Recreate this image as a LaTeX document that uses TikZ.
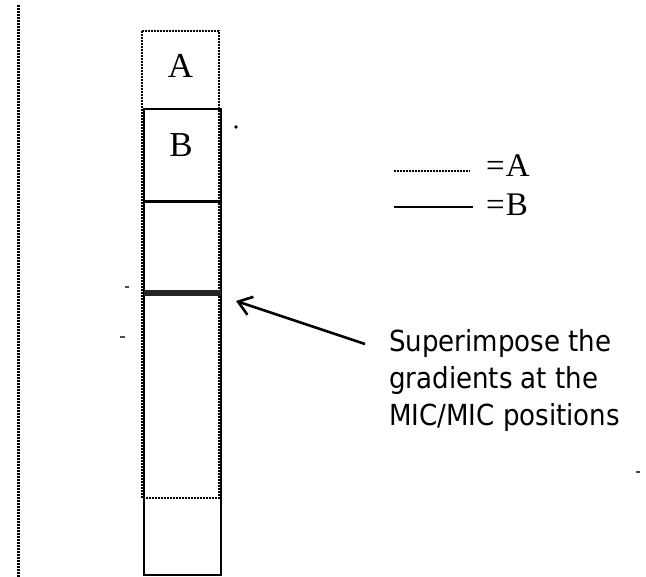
\documentclass[tikz,border=0pt]{standalone}
\usepackage{fontspec}
\setmainfont{Liberation Serif}
\newfontfamily\notefont{DejaVu Sans Condensed}
\usetikzlibrary{arrows.meta}
\begin{document}
\begin{tikzpicture}[x=1pt,y=-1pt,
  dotline/.style={line width=2.7pt,dash pattern=on 2pt off 1pt},
  solidline/.style={line width=2.8pt},
  letter/.style={font=\fontsize{35}{38}\selectfont,inner sep=0pt},
  legendtext/.style={font=\fontsize{33}{36}\selectfont,inner sep=0pt,anchor=base west},
  note/.style={font=\notefont\fontsize{29}{37}\selectfont,inner sep=0pt,anchor=base west},
  stray/.style={line width=1.6pt,black!70}]
\useasboundingbox (0,0) rectangle (646,577);
% left dotted margin line
\coordinate (m1) at (18,5);
\coordinate (m2) at (18,577);
\draw[dotline,line width=3pt] (m1) -- (m2);
% strip A (dotted)
\coordinate (a1) at (142,31);
\coordinate (a2) at (219,498);
\draw[dotline] (a1) rectangle (a2);
% strip B (solid)
\coordinate (b1) at (144,109);
\coordinate (b2) at (221,575);
\draw[solidline] (b1) rectangle (b2);
% line at 201
\coordinate (l1) at (144,201.5);
\coordinate (l2) at (221,201.5);
\draw[solidline] (l1) -- (l2);
% superimposed band
\coordinate (s1) at (144,293);
\coordinate (s2) at (221,293);
\draw[line width=6.5pt,black!85] (s1) -- (s2);
% labels
\node[letter] (A) at (180.5,66) {A};
\node[letter] (B) at (181,145) {B};
% legend
\coordinate (la1) at (394,171);
\coordinate (la2) at (470,171);
\draw[line width=2.2pt,dash pattern=on 2pt off 1pt] (la1) -- (la2);
\node[legendtext] (LA) at (486,177) {=\kern1pt A};
\coordinate (lb1) at (394,207);
\coordinate (lb2) at (473,207);
\draw[line width=2.8pt] (lb1) -- (lb2);
\node[legendtext] (LB) at (486,216) {=\kern1pt B};
% note
\node[note] (N1) at (389,352) {Superimpose the};
\node[note] (N2) at (389,389) {gradients at the};
\node[note] (N3) at (389,426) {MIC/MIC positions};
\coordinate (tail) at (365,344);
\coordinate (tip) at (236,301);
\draw[line width=2.6pt,-{Straight Barb[length=13pt,width=19pt,line width=2.6pt]}] (tail) -- (tip);
% small stray marks
\coordinate (d1) at (236,127);
\fill (d1) circle (1.8pt);
\coordinate (d2) at (125,287);
\coordinate (d3) at (129,287);
\draw[stray] (d2) -- (d3);
\coordinate (d4) at (120,337);
\coordinate (d5) at (125,337);
\draw[stray] (d4) -- (d5);
\coordinate (d6) at (636,472);
\coordinate (d7) at (640,472);
\draw[stray] (d6) -- (d7);
\end{tikzpicture}
\end{document}
